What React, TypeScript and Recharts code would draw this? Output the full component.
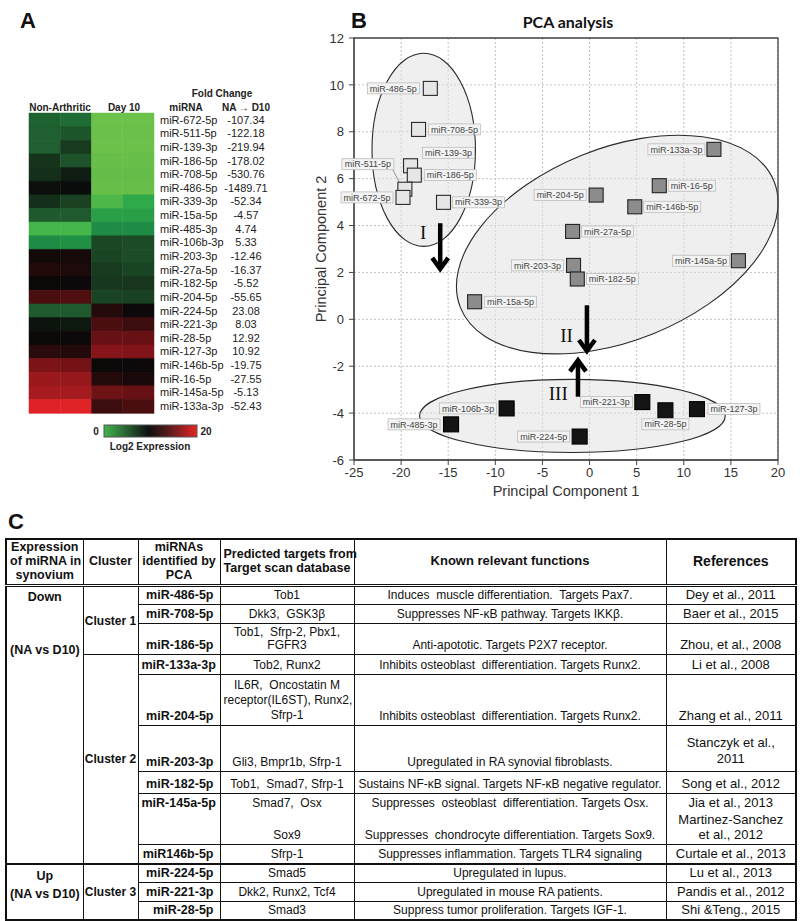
import React from 'react';
import {
  BarChart, Bar, Cell, XAxis, YAxis, ScatterChart, Scatter, CartesianGrid,
  ReferenceArea, ReferenceLine, ReferenceDot,
} from 'recharts';

// ---------------- Panel A: heatmap data ----------------
const heatMirnas = [
  'miR-672-5p', 'miR-511-5p', 'miR-139-3p', 'miR-186-5p', 'miR-708-5p', 'miR-486-5p',
  'miR-339-3p', 'miR-15a-5p', 'miR-485-3p', 'miR-106b-3p', 'miR-203-3p', 'miR-27a-5p',
  'miR-182-5p', 'miR-204-5p', 'miR-224-5p', 'miR-221-3p', 'miR-28-5p', 'miR-127-3p',
  'miR-146b-5p', 'miR-16-5p', 'miR-145a-5p', 'miR-133a-3p',
];
const foldChange = [
  -107.34, -122.18, -219.94, -178.02, -530.76, -1489.71, -52.34, -4.57, 4.74, 5.33, -12.46,
  -16.37, -5.52, -55.65, 23.08, 8.03, 12.92, 10.92, -19.75, -27.55, -5.13, -52.43,
];
// log2 expression (0..20) per replicate
const naRep1 = [6.7, 6.8, 6.8, 8.8, 9.0, 9.8, 9.0, 7.0, 2.3, 5.0, 10.4, 11.0, 10.1, 12.6, 7.0, 9.7, 10.1, 11.3, 14.7, 16.7, 17.6, 19.7];
const naRep2 = [6.3, 7.2, 8.5, 7.4, 9.5, 9.9, 8.2, 7.0, 2.3, 4.8, 10.5, 10.8, 10.2, 12.9, 7.0, 9.6, 10.2, 11.0, 14.4, 16.5, 17.5, 19.8];
const d10Rep1 = [0.5, 0.6, 0.5, 0.8, 1.0, 0.8, 2.0, 4.0, 5.0, 7.9, 8.0, 8.5, 8.6, 8.0, 11.1, 12.6, 13.9, 15.2, 10.1, 11.1, 14.1, 12.0];
const d10Rep2 = [0.5, 0.6, 0.5, 0.7, 1.0, 0.8, 3.5, 4.0, 5.0, 7.7, 7.7, 8.0, 8.7, 8.2, 10.2, 12.0, 13.9, 14.9, 10.2, 10.7, 13.9, 12.6];

// ---------------- Panel B: PCA data ----------------
const cluster1Names = ['miR-486-5p', 'miR-708-5p', 'miR-139-3p', 'miR-186-5p', 'miR-511-5p', 'miR-672-5p', 'miR-339-3p'];
const cluster1PC1 = [-16.9, -18.15, -19.0, -18.6, -19.6, -19.8, -15.5];
const cluster1PC2 = [9.85, 8.1, 6.55, 6.15, 5.55, 5.2, 4.99];

const cluster2Names = ['miR-133a-3p', 'miR-16-5p', 'miR-204-5p', 'miR-146b-5p', 'miR-27a-5p', 'miR-145a-5p', 'miR-203-3p', 'miR-182-5p', 'miR-15a-5p'];
const cluster2PC1 = [13.2, 7.4, 0.7, 4.8, -1.8, 15.8, -1.7, -1.3, -12.2];
const cluster2PC2 = [7.25, 5.7, 5.3, 4.8, 3.75, 2.5, 2.3, 1.72, 0.75];

const cluster3Names = ['miR-106b-3p', 'miR-485-3p', 'miR-224-5p', 'miR-221-3p', 'miR-28-5p', 'miR-127-3p'];
const cluster3PC1 = [-8.8, -14.7, -1.05, 5.6, 8.05, 11.4];
const cluster3PC2 = [-3.8, -4.48, -5.0, -3.53, -3.88, -3.83];

const xTicks = [-25, -20, -15, -10, -5, 0, 5, 10, 15, 20];
const yTicks = [-6, -4, -2, 0, 2, 4, 6, 8, 10, 12];

// cluster outlines (data units: centre, half-extent, rotation in degrees)
const clusterOutlines = [
  { cx: -17.6, cy: 7.23, hx: 5.49, hy: 4.12, angle: 0 },
  { cx: 2.94, cy: 3.19, hx: 17.94, hy: 4.1, angle: -22 },
  { cx: -1.82, cy: -4.12, hx: 16.22, hy: 1.56, angle: 0 },
];
const arrowSegments = [
  { x: -15.85, from: 4.1, to: 2.15 },
  { x: -0.28, from: 0.6, to: -1.35 },
  { x: -1.23, from: -3.3, to: -1.75 },
];
const romanLabels = [
  { text: 'I', x: -17.65, y: 3.7 },
  { text: 'II', x: -2.44, y: -0.67 },
  { text: 'III', x: -3.32, y: -3.16 },
];

// ---------------- styles ----------------
const SANS = "'Liberation Sans', Arial, sans-serif";
const NARROW = "'Liberation Sans Narrow', 'Arial Narrow', 'Liberation Sans', Arial, sans-serif";

// label placement: [dx, dy, anchor, leader]
const labelPlacement: Record<string, [number, number, 'start' | 'end' | 'middle', boolean?]> = {
  'miR-486-5p': [-11, 0, 'end'],
  'miR-708-5p': [10, 0, 'start'],
  'miR-139-3p': [12, -13, 'start'],
  'miR-186-5p': [10, 0, 'start'],
  'miR-511-5p': [-11, -25, 'end', true],
  'miR-672-5p': [-10, 0, 'end'],
  'miR-339-3p': [9, 0, 'start'],
  'miR-133a-3p': [-9, 0, 'end'],
  'miR-16-5p': [9, 0, 'start'],
  'miR-204-5p': [-10, 0, 'end'],
  'miR-146b-5p': [9, 0, 'start'],
  'miR-27a-5p': [9, 0, 'start'],
  'miR-145a-5p': [-9, 0, 'end'],
  'miR-203-3p': [-10, 0, 'end'],
  'miR-182-5p': [9, 0, 'start'],
  'miR-15a-5p': [10, 0, 'start'],
  'miR-106b-3p': [-10, 0, 'end'],
  'miR-485-3p': [-11, 0, 'end'],
  'miR-224-5p': [-10, 0, 'end'],
  'miR-221-3p': [-10, 0, 'end'],
  'miR-28-5p': [0, 14, 'middle'],
  'miR-127-3p': [11, 0, 'start'],
};

const colorStops: [number, string][] = [
  [0, '#72c44c'], [1, '#64bd48'], [3, '#35b24a'], [5, '#1e8c44'], [7, '#1f5a2e'],
  [9, '#15301a'], [10, '#080808'], [12, '#3c0c0e'], [15, '#821418'], [18, '#aa1c20'], [20, '#e62428'],
];
function hexToRgb(h: string) {
  return [parseInt(h.slice(1, 3), 16), parseInt(h.slice(3, 5), 16), parseInt(h.slice(5, 7), 16)];
}
function expColor(v: number) {
  for (let i = 0; i < colorStops.length - 1; i++) {
    const [a, ca] = colorStops[i];
    const [b, cb] = colorStops[i + 1];
    if (v <= b || i === colorStops.length - 2) {
      const t = Math.max(0, Math.min(1, (v - a) / (b - a)));
      const A = hexToRgb(ca), B = hexToRgb(cb);
      const c = A.map((x, k) => Math.round(x + (B[k] - x) * t));
      return `rgb(${c[0]},${c[1]},${c[2]})`;
    }
  }
  return '#000';
}

const heatData = heatMirnas.map((name, i) => ({ name, fc: foldChange[i], na1: 1, na2: 1, d1: 1, d2: 1 }));
const heatCols = [
  { key: 'na1', vals: naRep1 },
  { key: 'na2', vals: naRep2 },
  { key: 'd1', vals: d10Rep1 },
  { key: 'd2', vals: d10Rep2 },
];

const HeatTick = (props: any) => {
  const { x, y, payload } = props;
  const i = heatMirnas.indexOf(payload.value);
  return (
    <g>
      <text x={x} y={y} dy="0.35em" fontSize={11} fill="#222" fontFamily={SANS}>{payload.value}</text>
      <text x={x + 86} y={y} dy="0.35em" fontSize={11} fill="#222" fontFamily={SANS} textAnchor="middle">
        {i >= 0 ? foldChange[i].toFixed(2) : ''}
      </text>
    </g>
  );
};

const charW: Record<string, number> = { m: 7.5, i: 2, R: 6.5, '-': 3, p: 5, a: 5, b: 5 };
function labelWidth(s: string) {
  let w = 0;
  for (const ch of s) w += charW[ch] ?? 5;
  return w + 5;
}

const makeShape = (size: number, fill: string, stroke: string) => (props: any) => {
  const { cx, cy } = props;
  if (typeof cx !== 'number' || typeof cy !== 'number') return null;
  const name: string = props.payload?.name ?? props.name;
  const lp = labelPlacement[name] || [10, 0, 'start'];
  const [dx, dy, anchor, leader] = lp;
  const w = labelWidth(name);
  const h = 11;
  const lx = anchor === 'start' ? cx + dx : anchor === 'end' ? cx + dx - w : cx + dx - w / 2;
  const ly = cy + dy - h / 2;
  return (
    <g>
      <rect x={cx - size / 2} y={cy - size / 2} width={size} height={size} fill={fill} stroke={stroke} strokeWidth={1.1} />
      {leader ? <line x1={lx + w - 1} y1={ly + h} x2={cx - 5} y2={cy - 6} stroke="#666" strokeWidth={0.7} /> : null}
      <rect x={lx} y={ly} width={w} height={h} fill="#f3f3f3" stroke="#b5b5b5" strokeWidth={0.7} />
      <text x={lx + w / 2} y={cy + dy} dy="0.35em" textAnchor="middle" fontSize={9} fill="#444" fontFamily={SANS}>{name}</text>
    </g>
  );
};

const EllipseShape = (angle: number) => (p: any) => {
  const { x, y, width, height } = p;
  if ([x, y, width, height].some((v) => typeof v !== 'number' || isNaN(v))) return null;
  const cx = x + width / 2, cy = y + height / 2;
  return (
    <ellipse cx={cx} cy={cy} rx={Math.abs(width) / 2} ry={Math.abs(height) / 2}
      transform={`rotate(${angle} ${cx} ${cy})`} fill="#e2e2e2" fillOpacity={0.55} stroke="#2a2a2a" strokeWidth={1.1} />
  );
};

const ArrowShape = (p: any) => {
  const { x1, y1, x2, y2 } = p;
  if ([x1, y1, x2, y2].some((v) => typeof v !== 'number' || isNaN(v))) return null;
  const dx = x2 - x1, dy = y2 - y1;
  const len = Math.hypot(dx, dy) || 1;
  const ux = dx / len, uy = dy / len;
  const hl = 11, hw = 8;
  const bx = x2 - ux * hl, by = y2 - uy * hl;
  const px = -uy, py = ux;
  return (
    <g>
      <line x1={x1} y1={y1} x2={x2 - ux * 3} y2={y2 - uy * 3} stroke="#000" strokeWidth={4.5} />
      <polyline points={`${bx + px * hw},${by + py * hw} ${x2},${y2} ${bx - px * hw},${by - py * hw}`}
        fill="none" stroke="#000" strokeWidth={4.5} strokeLinejoin="miter" />
    </g>
  );
};

const RomanShape = (text: string) => (p: any) => {
  const { cx, cy } = p;
  if (typeof cx !== 'number') return null;
  return (
    <text x={cx} y={cy} dy="0.35em" textAnchor="middle" fontSize={19}
      fontFamily="'Liberation Serif', 'Times New Roman', serif" fill="#111">{text}</text>
  );
};

const cluster1 = cluster1Names.map((name, i) => ({ name, x: cluster1PC1[i], y: cluster1PC2[i] }));
const cluster2 = cluster2Names.map((name, i) => ({ name, x: cluster2PC1[i], y: cluster2PC2[i] }));
const cluster3 = cluster3Names.map((name, i) => ({ name, x: cluster3PC1[i], y: cluster3PC2[i] }));

// ---------------- Panel C: table ----------------
const cellBase: React.CSSProperties = {
  border: '1px solid #111', padding: '0 3px 2px 3px', verticalAlign: 'bottom',
  textAlign: 'center', fontSize: 12, lineHeight: '14px', whiteSpace: 'nowrap', overflow: 'visible',
};
const nameCell: React.CSSProperties = { ...cellBase, fontWeight: 700, textAlign: 'right', paddingRight: 6, fontSize: 12.5 };
const refCell: React.CSSProperties = { ...cellBase, fontSize: 13, lineHeight: '14px' };
const hdr: React.CSSProperties = { ...cellBase, fontWeight: 700, verticalAlign: 'middle', fontSize: 12.5, lineHeight: '14px', borderBottom: '3px double #111' };
const clusterCell: React.CSSProperties = { ...cellBase, fontWeight: 700, verticalAlign: 'middle', fontSize: 12, padding: '0 1px' };

function Table() {
  const noBottom: React.CSSProperties = { borderBottom: 'hidden' };
  const thick = '2px solid #111';
  return (
    <table style={{
      position: 'absolute', left: 5, top: 538, width: 790, borderCollapse: 'collapse', tableLayout: 'fixed',
      fontFamily: NARROW, color: '#111', border: '2px solid #111',
    }}>
      <colgroup>
        <col style={{ width: 77 }} /><col style={{ width: 55 }} /><col style={{ width: 82 }} />
        <col style={{ width: 134 }} /><col style={{ width: 312 }} /><col style={{ width: 130 }} />
      </colgroup>
      <tbody>
        <tr style={{ height: 44 }}>
          <td style={hdr}>Expression<br />of miRNA in<br />synovium</td>
          <td style={hdr}>Cluster</td>
          <td style={hdr}>miRNAs<br />identified by<br />PCA</td>
          <td style={hdr}>Predicted targets from<br />Target scan database</td>
          <td style={{ ...hdr, fontSize: 13 }}>Known relevant functions</td>
          <td style={{ ...hdr, fontSize: 14 }}>References</td>
        </tr>
        <tr style={{ height: 19 }}>
          <td rowSpan={10} style={{ ...cellBase, fontWeight: 700, verticalAlign: 'top', fontSize: 12.5, lineHeight: '14px', borderBottom: thick }}>
            <div style={{ paddingTop: 3 }}>Down</div>
            <div style={{ marginTop: 39 }}>(NA vs D10)</div>
          </td>
          <td rowSpan={3} style={clusterCell}>Cluster 1</td>
          <td style={nameCell}>miR-486-5p</td>
          <td style={cellBase}>Tob1</td>
          <td style={cellBase}>Induces&nbsp; muscle differentiation.&nbsp; Targets Pax7.</td>
          <td style={refCell}>Dey et al., 2011</td>
        </tr>
        <tr style={{ height: 19 }}>
          <td style={nameCell}>miR-708-5p</td>
          <td style={cellBase}>Dkk3,&nbsp; GSK3β</td>
          <td style={cellBase}>Suppresses NF-κB pathway. Targets IKKβ.</td>
          <td style={refCell}>Baer et al., 2015</td>
        </tr>
        <tr style={{ height: 31 }}>
          <td style={nameCell}>miR-186-5p</td>
          <td style={{ ...cellBase, lineHeight: '13px' }}>Tob1,&nbsp; Sfrp-2, Pbx1,<br />FGFR3</td>
          <td style={cellBase}>Anti-apototic. Targets P2X7 receptor.</td>
          <td style={refCell}>Zhou, et al., 2008</td>
        </tr>
        <tr style={{ height: 20 }}>
          <td rowSpan={7} style={{ ...clusterCell, borderBottom: thick }}>Cluster 2</td>
          <td style={nameCell}>miR-133a-3p</td>
          <td style={cellBase}>Tob2, Runx2</td>
          <td style={cellBase}>Inhibits osteoblast&nbsp; differentiation. Targets Runx2.</td>
          <td style={refCell}>Li et al., 2008</td>
        </tr>
        <tr style={{ height: 51 }}>
          <td style={nameCell}>miR-204-5p</td>
          <td style={{ ...cellBase, lineHeight: '15px' }}>IL6R,&nbsp; Oncostatin M<br />receptor(IL6ST), Runx2,<br />Sfrp-1</td>
          <td style={cellBase}>Inhibits osteoblast&nbsp; differentiation. Targets Runx2.</td>
          <td style={refCell}>Zhang et al., 2011</td>
        </tr>
        <tr style={{ height: 46 }}>
          <td style={nameCell}>miR-203-3p</td>
          <td style={cellBase}>Gli3, Bmpr1b, Sfrp-1</td>
          <td style={cellBase}>Upregulated in RA synovial fibroblasts.</td>
          <td style={{ ...refCell, lineHeight: '16px', paddingBottom: 4 }}>Stanczyk et al.,<br />2011</td>
        </tr>
        <tr style={{ height: 22 }}>
          <td style={nameCell}>miR-182-5p</td>
          <td style={cellBase}>Tob1,&nbsp; Smad7, Sfrp-1</td>
          <td style={cellBase}>Sustains NF-κB signal. Targets NF-κB negative regulator.</td>
          <td style={refCell}>Song et al., 2012</td>
        </tr>
        <tr style={{ height: 18 }}>
          <td rowSpan={2} style={{ ...nameCell, verticalAlign: 'top', paddingTop: 2 }}>miR-145a-5p</td>
          <td style={{ ...cellBase, ...noBottom }}>Smad7,&nbsp; Osx</td>
          <td style={{ ...cellBase, ...noBottom }}>Suppresses&nbsp; osteoblast&nbsp; differentiation. Targets Osx.</td>
          <td style={{ ...refCell, ...noBottom }}>Jia et al., 2013</td>
        </tr>
        <tr style={{ height: 32 }}>
          <td style={cellBase}>Sox9</td>
          <td style={cellBase}>Suppresses&nbsp; chondrocyte differentiation. Targets Sox9.</td>
          <td style={{ ...refCell, lineHeight: '15px' }}>Martinez-Sanchez<br />et al., 2012</td>
        </tr>
        <tr style={{ height: 20 }}>
          <td style={{ ...nameCell, borderBottom: thick }}>miR146b-5p</td>
          <td style={{ ...cellBase, borderBottom: thick }}>Sfrp-1</td>
          <td style={{ ...cellBase, borderBottom: thick }}>Suppresses inflammation. Targets TLR4 signaling</td>
          <td style={{ ...refCell, borderBottom: thick }}>Curtale et al., 2013</td>
        </tr>
        <tr style={{ height: 18 }}>
          <td rowSpan={3} style={{ ...cellBase, fontWeight: 700, verticalAlign: 'top', fontSize: 12.5, lineHeight: '18px' }}>
            <div style={{ paddingTop: 2 }}>Up</div>
            <div>(NA vs D10)</div>
          </td>
          <td rowSpan={3} style={clusterCell}>Cluster 3</td>
          <td style={nameCell}>miR-224-5p</td>
          <td style={cellBase}>Smad5</td>
          <td style={cellBase}>Upregulated in lupus.</td>
          <td style={refCell}>Lu et al., 2013</td>
        </tr>
        <tr style={{ height: 19 }}>
          <td style={nameCell}>miR-221-3p</td>
          <td style={cellBase}>Dkk2, Runx2, Tcf4</td>
          <td style={cellBase}>Upregulated in mouse RA patients.</td>
          <td style={refCell}>Pandis et al., 2012</td>
        </tr>
        <tr style={{ height: 19 }}>
          <td style={nameCell}>miR-28-5p</td>
          <td style={cellBase}>Smad3</td>
          <td style={cellBase}>Suppress tumor proliferation. Targets IGF-1.</td>
          <td style={refCell}>Shi &amp;Teng., 2015</td>
        </tr>
      </tbody>
    </table>
  );
}

export default function App() {
  return (
    <div style={{ position: 'absolute', left: 0, top: 0, width: 800, height: 921, background: '#fff', overflow: 'hidden', fontFamily: SANS }}>
      {/* Panel A heatmap */}
      <div style={{ position: 'absolute', left: 0, top: 0 }}>
        <BarChart layout="vertical" width={300} height={430} data={heatData}
          margin={{ top: 113, right: 0, bottom: 17, left: 29 }} barCategoryGap={0} barGap={0}>
          <XAxis type="number" domain={[0, 4]} hide />
          <YAxis type="category" dataKey="name" orientation="right" width={146} axisLine={false}
            tickLine={false} tickSize={0} tickMargin={6} interval={0} tick={<HeatTick />} />
          {heatCols.map((col) => (
            <Bar key={col.key} dataKey={col.key} stackId="h" isAnimationActive={false}>
              {heatData.map((d, i) => (
                <Cell key={d.name} fill={expColor(col.vals[i])} stroke={expColor(col.vals[i])} strokeWidth={0.5} />
              ))}
            </Bar>
          ))}
        </BarChart>
      </div>

      {/* Panel B PCA */}
      <div style={{ position: 'absolute', left: 300, top: 0 }}>
        <ScatterChart width={500} height={500} margin={{ top: 38, right: 22, bottom: 0, left: 16 }}>
          <CartesianGrid stroke="#c2c2c2" strokeDasharray="2 2" />
          <XAxis type="number" dataKey="x" domain={[-25, 20]} ticks={xTicks} interval={0} height={40}
            tickSize={5} tickMargin={3} stroke="#444" tick={{ fontSize: 13, fill: '#333', fontFamily: SANS }}
            label={{ value: 'Principal Component 1', position: 'insideBottom', offset: 4, style: { fontSize: 14.5, fill: '#333', fontFamily: SANS } }} />
          <YAxis type="number" dataKey="y" domain={[-6, 12]} ticks={yTicks} interval={0} width={38}
            tickSize={5} tickMargin={5} stroke="#444" tick={{ fontSize: 13, fill: '#333', fontFamily: SANS }}
            label={{ value: 'Principal Component 2', angle: -90, position: 'insideLeft', offset: 5, style: { textAnchor: 'middle', fontSize: 14.5, fill: '#333', fontFamily: SANS } }} />
          {clusterOutlines.map((e, i) => (
            <ReferenceArea key={'e' + i} x1={e.cx - e.hx} x2={e.cx + e.hx} y1={e.cy - e.hy} y2={e.cy + e.hy}
              ifOverflow="visible" shape={EllipseShape(e.angle)} />
          ))}
          <ReferenceArea x1={-25} x2={20} y1={-6} y2={12} fill="none" fillOpacity={0} stroke="#444" strokeWidth={1.3} ifOverflow="visible" />
          {arrowSegments.map((a, i) => (
            <ReferenceLine key={'a' + i} segment={[{ x: a.x, y: a.from }, { x: a.x, y: a.to }]} shape={ArrowShape} ifOverflow="visible" />
          ))}
          {romanLabels.map((r) => (
            <ReferenceDot key={r.text} x={r.x} y={r.y} r={0} shape={RomanShape(r.text)} ifOverflow="visible" />
          ))}
          <Scatter data={cluster1} shape={makeShape(14, '#e6e6e6', '#2a2a2a')} isAnimationActive={false} />
          <Scatter data={cluster2} shape={makeShape(14, '#8c8c8c', '#222')} isAnimationActive={false} />
          <Scatter data={cluster3} shape={makeShape(15, '#141414', '#000')} isAnimationActive={false} />
        </ScatterChart>
      </div>

      {/* static texts */}
      <svg width={800} height={540} style={{ position: 'absolute', left: 0, top: 0, pointerEvents: 'none' }}>
        <text x={20} y={28} fontSize={22} fontWeight={700} fontFamily={SANS} fill="#111">A</text>
        <text x={351} y={28} fontSize={22} fontWeight={700} fontFamily={SANS} fill="#111">B</text>
        <text x={568} y={22} dy="0.35em" textAnchor="middle" fontSize={16} fontWeight={700} fontFamily="Lato, 'Open Sans', sans-serif" fill="#111">PCA analysis</text>
        <g fontSize={10} fontWeight={700} fontFamily={SANS} fill="#222" textAnchor="middle">
          <text x={222} y={93} dy="0.35em">Fold Change</text>
          <text x={60} y={107} dy="0.35em">Non-Arthritic</text>
          <text x={124} y={107} dy="0.35em">Day 10</text>
          <text x={186} y={107} dy="0.35em">miRNA</text>
          <text x={246} y={107} dy="0.35em">NA → D10</text>
          <text x={96} y={431} dy="0.35em">0</text>
          <text x={206} y={431} dy="0.35em">20</text>
          <text x={150} y={446} dy="0.35em">Log2 Expression</text>
        </g>
        <defs>
          <linearGradient id="cbar" x1="0" x2="1" y1="0" y2="0">
            <stop offset="0%" stopColor="#3fb54c" />
            <stop offset="22%" stopColor="#2a6a36" />
            <stop offset="48%" stopColor="#101010" />
            <stop offset="70%" stopColor="#5a1c1c" />
            <stop offset="100%" stopColor="#e62424" />
          </linearGradient>
        </defs>
        <rect x={104} y={425} width={93} height={12} fill="url(#cbar)" stroke="#555" strokeWidth={1} />
        <text x={8} y={529} fontSize={22} fontWeight={700} fontFamily={SANS} fill="#111">C</text>
      </svg>

      <Table />
    </div>
  );
}
